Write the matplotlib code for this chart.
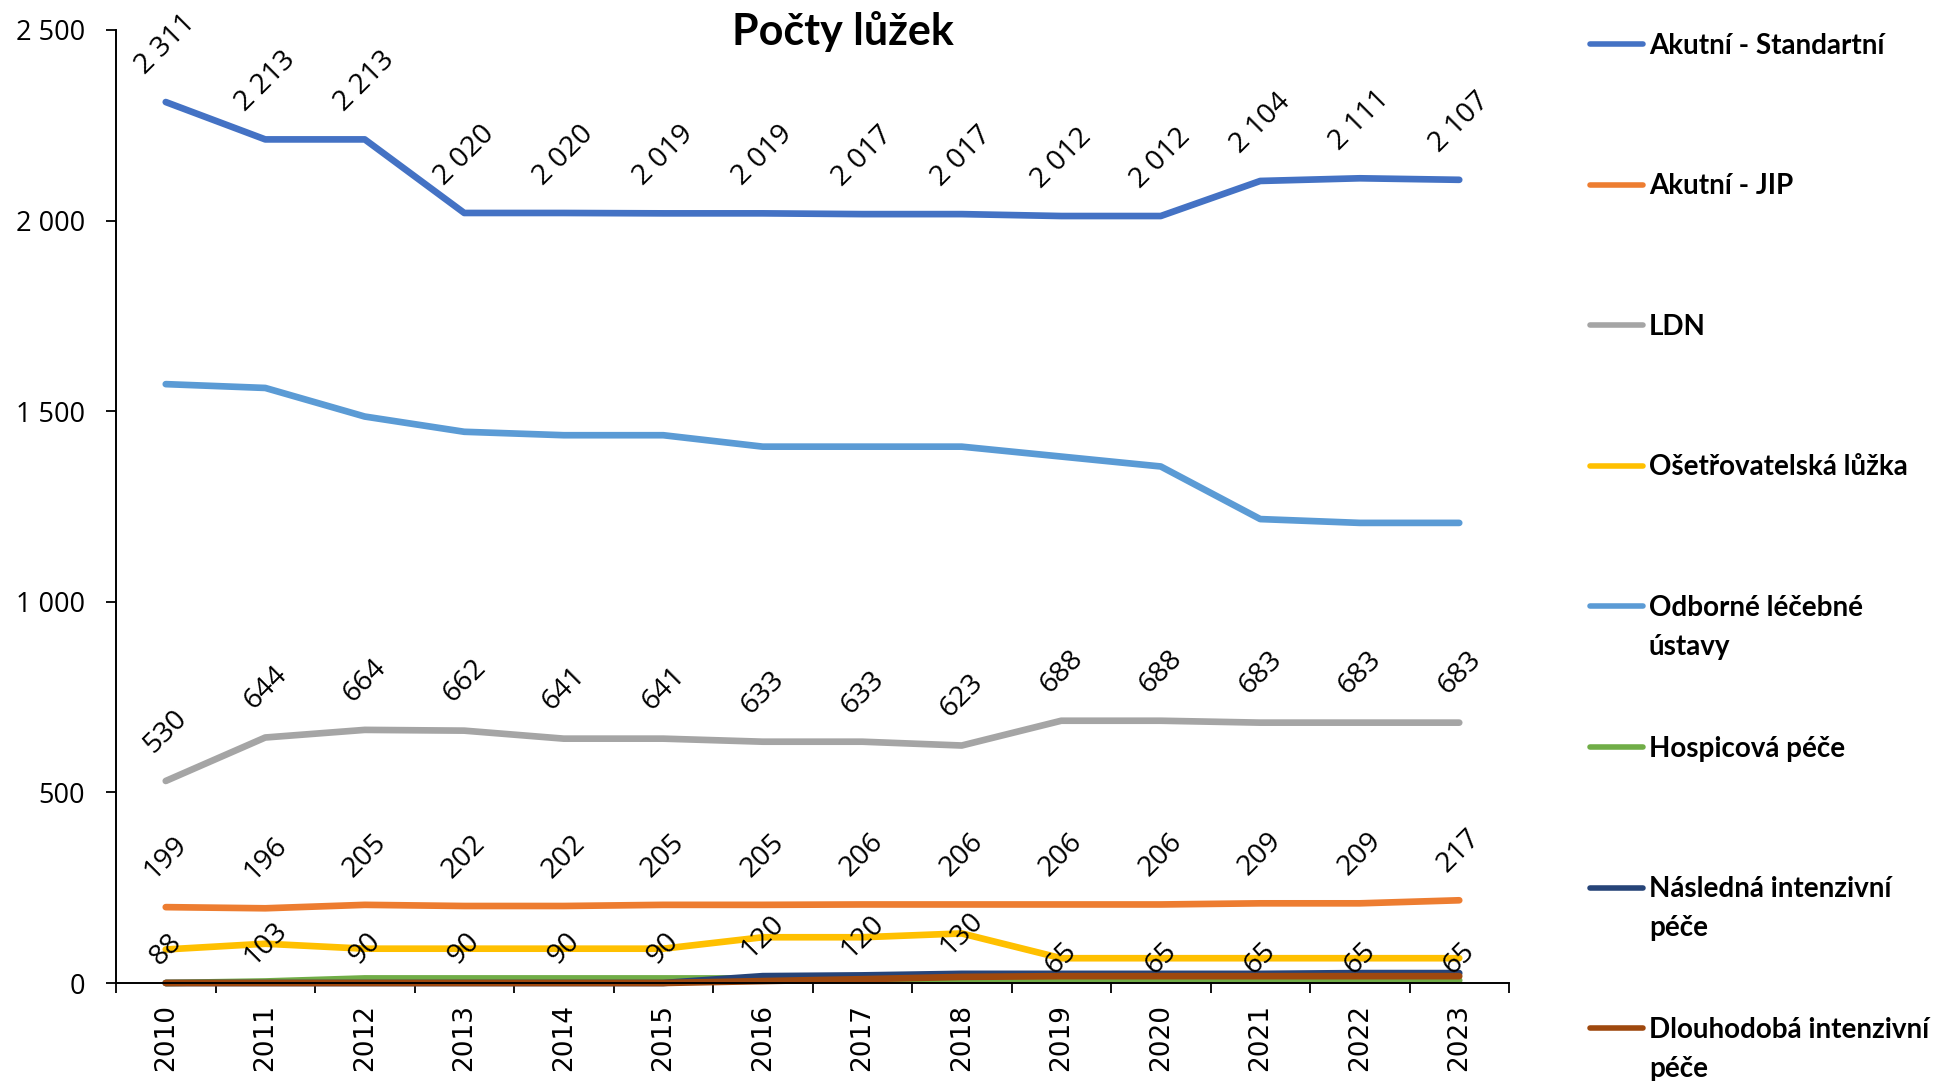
import matplotlib
matplotlib.use("Agg")
import matplotlib.pyplot as plt
import numpy as np
from matplotlib.lines import Line2D

# data
years = [str(y) for y in range(2010, 2024)]

akutni_standard = [2311, 2213, 2213, 2020, 2020, 2019, 2019, 2017, 2017, 2012, 2012, 2104, 2111, 2107]
akutni_jip = [199, 196, 205, 202, 202, 205, 205, 206, 206, 206, 206, 209, 209, 217]
ldn = [530, 644, 664, 662, 641, 641, 633, 633, 623, 688, 688, 683, 683, 683]
osetrovatelska = [88, 103, 90, 90, 90, 90, 120, 120, 130, 65, 65, 65, 65, 65]
odborne = [1571, 1561, 1486, 1446, 1437, 1437, 1407, 1407, 1407, 1381, 1355, 1217, 1207, 1207]
hospicova = [0, 4, 12, 12, 12, 12, 12, 10, 8, 7, 7, 7, 7, 7]
nasledna = [0, 0, 0, 0, 0, 0, 18, 20, 24, 24, 24, 24, 26, 26]
dlouhodoba = [0, 0, 0, 0, 0, 0, 5, 10, 16, 18, 18, 18, 18, 18]

series_names = ["Akutní - Standartní", "Akutní - JIP", "LDN", "Ošetřovatelská lůžka",
                "Odborné léčebné\nústavy", "Hospicová péče", "Následná intenzivní\npéče",
                "Dlouhodobá intenzivní\npéče"]
series_data = [akutni_standard, akutni_jip, ldn, osetrovatelska, odborne, hospicova, nasledna, dlouhodoba]
series_colors = ["#4472C4", "#ED7D31", "#A5A5A5", "#FFC000", "#5B9BD5", "#70AD47", "#264478", "#9E480E"]
label_mode = ["above", "above", "above", "center", None, None, None, None]

yticks = [0, 500, 1000, 1500, 2000, 2500]


def fmt(v):
    return f"{v:,.0f}".replace(",", " ")


W, H = 1957, 1081
fig = plt.figure(figsize=(W / 100, H / 100), dpi=100)
ax = fig.add_axes([116 / W, 1 - 983 / H, (1509 - 116) / W, 953 / H])

x = np.arange(len(years))
for name, vals, col in zip(series_names, series_data, series_colors):
    ax.plot(x, vals, color=col, lw=4.8, solid_capstyle="round", solid_joinstyle="round", clip_on=False)

# data labels
for vals, mode in zip(series_data, label_mode):
    if mode is None:
        continue
    for i, v in enumerate(vals):
        if mode == "above":
            ax.annotate(fmt(v), (i, v), xytext=(0, 16), textcoords="offset points", rotation=45,
                        ha="center", va="bottom", fontsize=20.5, family="Open Sans", zorder=5)
        else:
            ax.annotate(fmt(v), (i, v), xytext=(0, 0), textcoords="offset points", rotation=45,
                        ha="center", va="center", fontsize=20.5, family="Open Sans", zorder=5)

ax.set_xlim(-0.5, len(years) - 0.5)
ax.set_ylim(0, 2500)

ax.set_xticks(np.arange(-0.5, len(years), 1))
ax.set_xticklabels([])
ax.set_xticks(x, minor=True)
ax.set_xticklabels(years, minor=True, rotation=90, fontsize=19)
ax.tick_params(axis="x", which="major", length=7.2, width=1.3, direction="out")
ax.tick_params(axis="x", which="minor", length=0, pad=15)

ax.set_yticks(yticks, labels=[fmt(v) for v in yticks], fontsize=19.5, fontfamily="Open Sans")
ax.tick_params(axis="y", length=7.2, width=1.3, direction="out", pad=15)

for s in ["top", "right"]:
    ax.spines[s].set_visible(False)
for s in ["left", "bottom"]:
    ax.spines[s].set_linewidth(1.4)
    ax.spines[s].set_color("black")

fig.text(843 / W, 1 - 45 / H, "Počty lůžek", ha="center", va="baseline",
         fontsize=31, fontweight="bold", family="Lato")

# legend on the right
for k, (name, col) in enumerate(zip(series_names, series_colors)):
    yy = 44 + k * 140.6
    fig.add_artist(Line2D([1590 / W, 1643 / W], [1 - yy / H, 1 - yy / H], transform=fig.transFigure,
                          color=col, lw=4, solid_capstyle="round"))
    for j, line in enumerate(name.split("\n")):
        fig.text(1649 / W, 1 - (yy + 9.5 + 39 * j) / H, line, ha="left", va="baseline",
                 fontsize=20, fontweight="bold", family="Lato")

fig.savefig("out.png", dpi=100)
